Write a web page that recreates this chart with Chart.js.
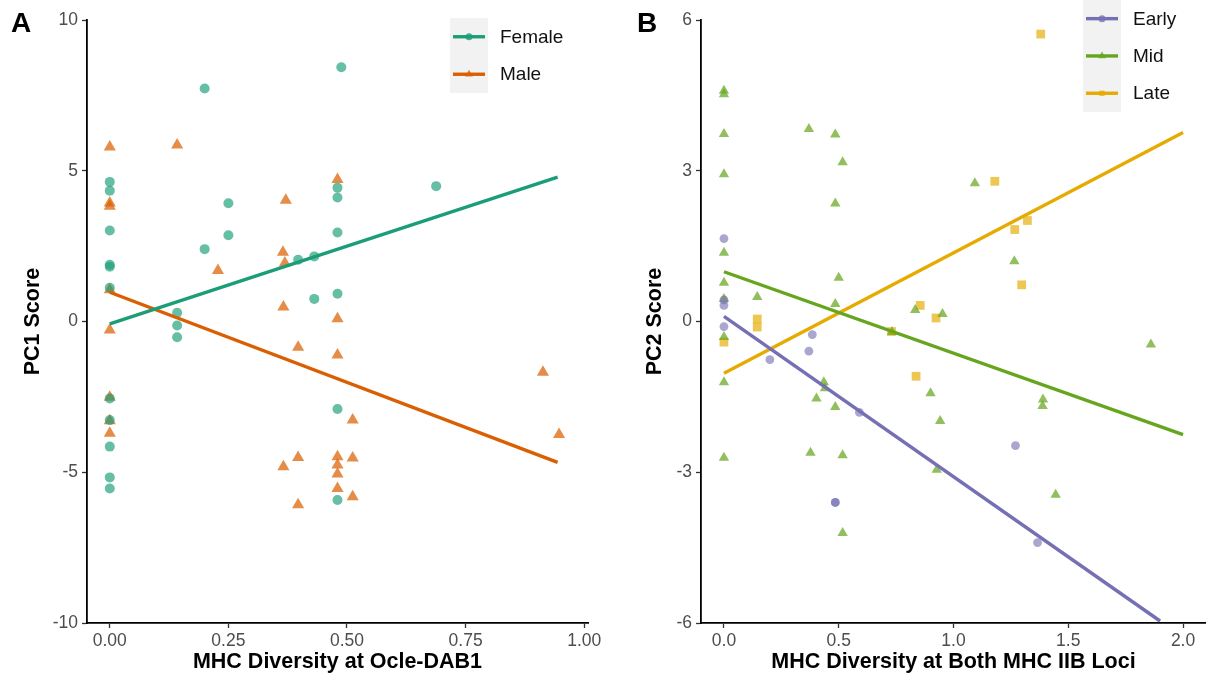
<!DOCTYPE html>
<html>
<head>
<meta charset="utf-8">
<script src="https://cdn.jsdelivr.net/npm/chart.js@4.4.0/dist/chart.umd.min.js"></script>
<style>
html,body{margin:0;padding:0;background:#fff;}
#wrap{position:relative;width:1206px;height:691px;overflow:hidden;background:#fff;}
canvas{position:absolute;top:0;}
#ca{left:0;}
#cb{left:610px;}
</style>
</head>
<body>
<div id="wrap">
<canvas id="ca" width="610" height="691"></canvas>
<canvas id="cb" width="616" height="691"></canvas>
</div>
<script>
// ---------------- Panel A data ----------------
const femaleX = [0,0,0,0,0,0,0,0,0,0,0, 0.142,0.142,0.142, 0.20,0.20, 0.25,0.25, 0.397,0.431,0.431, 0.48,0.48,0.48,0.48,0.48,0.48, 0.488, 0.688];
const femaleY = [4.63,4.34,3.02,1.88,1.82,1.12,-2.55,-3.27,-4.15,-5.17,-5.54, 0.29,-0.13,-0.52, 2.40,7.73, 3.92,2.86, 2.05,2.16,0.75, 4.44,4.11,2.95,0.92,-2.90,-5.92, 8.43, 4.49];
const maleX = [0,0,0,0,0,0,0,0, 0.142, 0.228, 0.365,0.369,0.371,0.366,0.366, 0.397,0.397,0.397, 0.48,0.48,0.48,0.48,0.48,0.48,0.48, 0.512,0.512,0.512, 0.913,0.947];
const maleY = [5.79,3.93,3.82,1.05,-0.28,-2.51,-3.29,-3.71, 5.85, 1.69, 2.30,1.94,4.02,0.48,-4.82, -0.85,-4.51,-6.08, 4.71,0.09,-1.11,-4.49,-4.76,-5.06,-5.54, -3.27,-4.53,-5.81, -1.68,-3.75];
const fitFemaleX = [0, 0.944];
const fitFemaleY = [-0.08, 4.79];
const fitMaleX = [0, 0.944];
const fitMaleY = [0.97, -4.67];
const xTicksA = [0, 0.25, 0.5, 0.75, 1.0];
const xTickLabelsA = ["0.00", "0.25", "0.50", "0.75", "1.00"];
const yTicksA = [-10, -5, 0, 5, 10];
const yTickLabelsA = ["-10", "-5", "0", "5", "10"];
const legendA = ["Female", "Male"];

// ---------------- Panel B data ----------------
const earlyX = [0,0,0,0, 0.20,0.37,0.385,0.59,0.485,0.485,1.27,1.366];
const earlyY = [1.65,0.43,0.32,-0.10, -0.76,-0.59,-0.26,-1.81,-3.60,-3.60,-2.47,-4.40];
const midX = [0,0,0,0,0,0,0,0,0,0, 0.145, 0.37,0.485,0.517,0.485,0.50,0.485, 0.833,0.952,0.732, 0.435,0.44,0.403,0.485,0.377,0.517,0.517, 0.90,0.942,0.927, 1.093,1.265,1.86,1.39,1.388,1.445];
const midY = [4.59,4.52,3.73,2.93,1.37,0.77,0.45,-0.31,-1.21,-2.71, 0.49, 3.83,3.72,3.17,2.35,0.87,0.35, 0.23,0.15,-0.21, -1.21,-1.33,-1.53,-1.70,-2.61,-2.66,-4.21, -1.43,-1.98,-2.95, 2.75,1.20,-0.46,-1.55,-1.68,-3.45];
const lateX = [0, 0.145,0.145, 0.855,0.924,0.73,0.837, 1.38,1.18,1.322,1.267,1.297];
const lateY = [-0.41, 0.05,-0.11, 0.32,0.07,-0.20,-1.09, 5.72,2.79,2.01,1.83,0.73];
const fitEarlyX = [0, 1.90];
const fitEarlyY = [0.10, -5.96];
const fitMidX = [0, 2.0];
const fitMidY = [0.99, -2.25];
const fitLateX = [0, 2.0];
const fitLateY = [-1.03, 3.76];
const xTicksB = [0, 0.5, 1.0, 1.5, 2.0];
const xTickLabelsB = ["0.0", "0.5", "1.0", "1.5", "2.0"];
const yTicksB = [-6, -3, 0, 3, 6];
const yTickLabelsB = ["-6", "-3", "0", "3", "6"];
const legendB = ["Early", "Mid", "Late"];

// ---------------- styling ----------------
const FONT = '"Liberation Sans", Arial, Helvetica, sans-serif';
Chart.defaults.font.family = FONT;
const C_F = '27,158,119', C_M = '217,95,2';
const C_E = '117,112,179', C_MI = '102,166,30', C_L = '230,171,2';

function pts(xs, ys){ return xs.map((x,i)=>({x:x, y:ys[i]})); }

function scatterDs(label, xs, ys, rgb, style, r, alpha){
  return {type:'scatter', label, data:pts(xs,ys), pointStyle:style, pointRadius:r,
    backgroundColor:`rgba(${rgb},${alpha})`, pointBackgroundColor:`rgba(${rgb},${alpha})`,
    borderWidth:0, pointBorderWidth:0, order:2};
}
function lineDs(label, xs, ys, rgb){
  return {type:'line', label, data:pts(xs,ys), showLine:true, pointRadius:0,
    borderColor:`rgb(${rgb})`, borderWidth:3.4, fill:false, order:1, tension:0};
}

function drawShape(ctx, style, x, y, r){
  ctx.beginPath();
  if(style==='circle'){ ctx.arc(x,y,r,0,Math.PI*2); }
  else if(style==='triangle'){
    ctx.moveTo(x, y-r); ctx.lineTo(x+r*0.866, y+r*0.5); ctx.lineTo(x-r*0.866, y+r*0.5); ctx.closePath();
  } else { ctx.rect(x-r*0.75, y-r*0.75, r*1.5, r*1.5); }
  ctx.fill();
}

const panelPlugin = {
  id:'panelDeco',
  afterDraw(chart, args, opts){
    const ctx = chart.ctx;
    ctx.save();
    ctx.fillStyle = '#000';
    ctx.font = `bold 28px ${FONT}`;
    ctx.textBaseline = 'alphabetic';
    ctx.textAlign = 'left';
    ctx.fillText(opts.letter, opts.letterX, 32);
    const L = opts.legend;
    ctx.fillStyle = '#f2f2f2';
    ctx.fillRect(L.x, L.y, L.w, L.keyH*L.items.length);
    L.items.forEach((it, i) => {
      const cy = L.y + L.keyH*(i+0.5);
      ctx.strokeStyle = `rgb(${it.rgb})`;
      ctx.lineWidth = 3.4;
      ctx.beginPath(); ctx.moveTo(L.x+3, cy); ctx.lineTo(L.x+L.w-3, cy); ctx.stroke();
      ctx.fillStyle = `rgba(${it.rgb},0.8)`;
      drawShape(ctx, it.style, L.x+L.w/2, cy, it.style==='triangle'?4.5:3.5);
      ctx.fillStyle = '#111';
      ctx.font = `19px ${FONT}`;
      ctx.textBaseline = 'middle';
      ctx.fillText(it.label, L.x+L.w+12, cy+1);
    });
    ctx.restore();
  }
};

function makeScales(o){
  return {
    x:{type:'linear', min:o.xmin, max:o.xmax,
      afterBuildTicks:(s)=>{ s.ticks = o.xt.map(v=>({value:v})); },
      afterFit:(s)=>{ s.height = 68; },
      ticks:{callback:(v,i)=>o.xl[i], color:'#4d4d4d', font:{size:17.5}, padding:3, maxRotation:0, autoSkip:false},
      grid:{drawOnChartArea:false, drawTicks:true, tickLength:5, color:'#333', tickWidth:1.3},
      border:{display:true, color:'#000', width:1.8},
      title:{display:true, text:o.xtitle, color:'#000', font:{size:21.5, weight:'bold'}, padding:{top:0,bottom:16}}
    },
    y:{type:'linear', min:o.ymin, max:o.ymax,
      afterBuildTicks:(s)=>{ s.ticks = o.yt.map(v=>({value:v})); },
      afterFit:(s)=>{ s.width = o.yw; },
      ticks:{callback:(v,i)=>o.yl[i], color:'#4d4d4d', font:{size:17.5}, padding:4, autoSkip:false},
      grid:{drawOnChartArea:false, drawTicks:true, tickLength:5, color:'#333', tickWidth:1.3},
      border:{display:true, color:'#000', width:1.8},
      title:{display:true, text:o.ytitle, color:'#000', font:{size:21.5, weight:'bold'}, padding:{top:o.ytp, bottom:0}}
    }
  };
}

new Chart(document.getElementById('ca'), {
  type:'scatter',
  data:{datasets:[
    lineDs('Female fit', fitFemaleX, fitFemaleY, C_F),
    lineDs('Male fit', fitMaleX, fitMaleY, C_M),
    scatterDs(legendA[0], femaleX, femaleY, C_F, 'circle', 5, 0.67),
    scatterDs(legendA[1], maleX, maleY, C_M, 'triangle', 7, 0.72)
  ]},
  options:{
    responsive:false, animation:false, devicePixelRatio:1,
    layout:{padding:{left:0, right:22, top:20, bottom:0}},
    plugins:{legend:{display:false}, tooltip:{enabled:false},
      panelDeco:{letter:'A', letterX:11,
        legend:{x:450, y:18, w:38, keyH:37.5, items:[
          {label:legendA[0], rgb:C_F, style:'circle'},
          {label:legendA[1], rgb:C_M, style:'triangle'}]}}},
    scales:makeScales({xmin:-0.048, xmax:1.008, xt:xTicksA, xl:xTickLabelsA, ymin:-10, ymax:10, yt:yTicksA, yl:yTickLabelsA,
      yw:87, ytp:20, xtitle:'MHC Diversity at Ocle-DAB1', ytitle:'PC1 Score'})
  },
  plugins:[panelPlugin]
});

new Chart(document.getElementById('cb'), {
  type:'scatter',
  data:{datasets:[
    lineDs('Early fit', fitEarlyX, fitEarlyY, C_E),
    lineDs('Mid fit', fitMidX, fitMidY, C_MI),
    lineDs('Late fit', fitLateX, fitLateY, C_L),
    scatterDs(legendB[0], earlyX, earlyY, C_E, 'circle', 4.4, 0.62),
    scatterDs(legendB[1], midX, midY, C_MI, 'triangle', 6, 0.72),
    scatterDs(legendB[2], lateX, lateY, C_L, 'rect', 6.2, 0.68)
  ]},
  options:{
    responsive:false, animation:false, devicePixelRatio:1,
    layout:{padding:{left:0, right:20, top:20, bottom:0}},
    plugins:{legend:{display:false}, tooltip:{enabled:false},
      panelDeco:{letter:'B', letterX:27,
        legend:{x:473, y:0, w:38, keyH:37.3, items:[
          {label:legendB[0], rgb:C_E, style:'circle'},
          {label:legendB[1], rgb:C_MI, style:'triangle'},
          {label:legendB[2], rgb:C_L, style:'rect'}]}}},
    scales:makeScales({xmin:-0.1, xmax:2.1, xt:xTicksB, xl:xTickLabelsB, ymin:-6, ymax:6, yt:yTicksB, yl:yTickLabelsB,
      yw:91, ytp:32, xtitle:'MHC Diversity at Both MHC IIB Loci', ytitle:'PC2 Score'})
  },
  plugins:[panelPlugin]
});
</script>
</body>
</html>
